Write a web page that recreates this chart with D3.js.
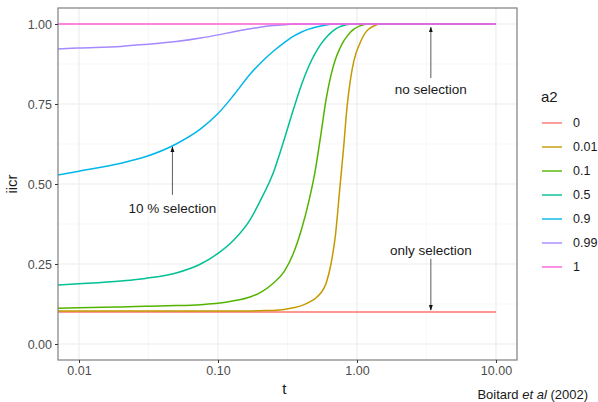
<!DOCTYPE html>
<html>
<head>
<meta charset="utf-8">
<script src="https://cdn.jsdelivr.net/npm/d3@7"></script>
<style>
  body { margin: 0; background: #fff; }
  svg { display: block; font-family: "Liberation Sans", Arial, sans-serif; }
</style>
</head>
<body>
<svg id="chart" width="598" height="402"></svg>
<script>
// iicr curves, one series per a2 level
const a2Levels = ["0", "0.01", "0.1", "0.5", "0.9", "0.99", "1"];
const colors = ["#F8766D", "#C49A00", "#53B400", "#00C094", "#00B6EB", "#A58AFF", "#FB61D7"];

const tGrid = [0.007, 0.01, 0.02, 0.03, 0.05, 0.075, 0.1, 0.13, 0.17, 0.2, 0.25, 0.3, 0.35, 0.4, 0.45,
  0.5, 0.55, 0.6, 0.65, 0.7, 0.75, 0.8, 0.85, 0.9, 0.95, 1.05, 1.2, 1.5, 2, 5, 10];

const iicr_0    = [0.1, 0.1, 0.1, 0.1, 0.1, 0.1, 0.1, 0.1, 0.1, 0.1, 0.1, 0.1, 0.1, 0.1, 0.1,
  0.1, 0.1, 0.1, 0.1, 0.1, 0.1, 0.1, 0.1, 0.1, 0.1, 0.1, 0.1, 0.1, 0.1, 0.1, 0.1];
const iicr_001  = [0.103, 0.103, 0.103, 0.103, 0.103, 0.103, 0.103, 0.103, 0.103, 0.104, 0.105, 0.108, 0.113, 0.12, 0.13,
  0.142, 0.16, 0.19, 0.25, 0.34, 0.48, 0.61, 0.745, 0.83, 0.885, 0.94, 0.982, 1, 1, 1, 1];
const iicr_01   = [0.112, 0.113, 0.116, 0.118, 0.12, 0.123, 0.127, 0.135, 0.147, 0.16, 0.19, 0.227, 0.285, 0.36, 0.445,
  0.54, 0.655, 0.765, 0.84, 0.89, 0.922, 0.946, 0.962, 0.975, 0.984, 0.994, 1, 1, 1, 1, 1];
const iicr_05   = [0.184, 0.188, 0.197, 0.205, 0.222, 0.25, 0.283, 0.325, 0.388, 0.445, 0.535, 0.64, 0.735, 0.812, 0.868,
  0.908, 0.937, 0.958, 0.973, 0.984, 0.991, 0.995, 0.998, 1, 1, 1, 1, 1, 1, 1, 1];
const iicr_09   = [0.528, 0.54, 0.565, 0.585, 0.625, 0.672, 0.72, 0.778, 0.843, 0.876, 0.915, 0.942, 0.962, 0.975, 0.984,
  0.99, 0.994, 0.997, 0.999, 1, 1, 1, 1, 1, 1, 1, 1, 1, 1, 1, 1];
const iicr_099  = [0.922, 0.925, 0.93, 0.936, 0.945, 0.956, 0.966, 0.976, 0.985, 0.99, 0.995, 0.998, 1, 1, 1,
  1, 1, 1, 1, 1, 1, 1, 1, 1, 1, 1, 1, 1, 1, 1, 1];
const iicr_1    = [1, 1, 1, 1, 1, 1, 1, 1, 1, 1, 1, 1, 1, 1, 1,
  1, 1, 1, 1, 1, 1, 1, 1, 1, 1, 1, 1, 1, 1, 1, 1];
const seriesValues = [iicr_0, iicr_001, iicr_01, iicr_05, iicr_09, iicr_099, iicr_1];

const xTicks = [0.01, 0.1, 1, 10];
const xMinor = [0.0316, 0.316, 3.16];
const yTicks = [0, 0.25, 0.5, 0.75, 1];
const yMinor = [0.125, 0.375, 0.625, 0.875];

// annotations: label, t, text y, arrow start y, arrow end y
const noteLabels = ["no selection", "only selection", "10 % selection"];
const noteT      = [3.4, 3.4, 0.047];
const noteTextY  = [0.797, 0.294, 0.425];
const noteFromY  = [0.831, 0.266, 0.466];
const noteToY    = [0.99, 0.106, 0.616];

const margin = { top: 8, right: 81, bottom: 42, left: 58 };
const W = 598, H = 402;
const pw = W - margin.left - margin.right;
const ph = H - margin.top - margin.bottom;

const x = d3.scaleLog().domain([0.00706, 14.17]).range([0, pw]);
const y = d3.scaleLinear().domain([-0.05, 1.05]).range([ph, 0]);

const svg = d3.select("#chart");
svg.append("defs").append("clipPath").attr("id", "clip")
  .append("rect").attr("width", pw).attr("height", ph);
svg.select("defs").append("marker")
  .attr("id", "arrow").attr("viewBox", "0 0 10 10").attr("refX", 9).attr("refY", 5)
  .attr("markerWidth", 7).attr("markerHeight", 7).attr("orient", "auto")
  .append("path").attr("d", "M0,1.5L10,5L0,8.5Z").attr("fill", "#111");

const g = svg.append("g").attr("transform", `translate(${margin.left},${margin.top})`);

// grid
g.selectAll(".vminor").data(xMinor).enter().append("line")
  .attr("x1", d => x(d)).attr("x2", d => x(d)).attr("y1", 0).attr("y2", ph)
  .attr("stroke", "#f2f2f2").attr("stroke-width", 0.6);
g.selectAll(".hminor").data(yMinor).enter().append("line")
  .attr("y1", d => y(d)).attr("y2", d => y(d)).attr("x1", 0).attr("x2", pw)
  .attr("stroke", "#f2f2f2").attr("stroke-width", 0.6);
g.selectAll(".vmajor").data(xTicks).enter().append("line")
  .attr("x1", d => x(d)).attr("x2", d => x(d)).attr("y1", 0).attr("y2", ph)
  .attr("stroke", "#ebebeb").attr("stroke-width", 1.1);
g.selectAll(".hmajor").data(yTicks).enter().append("line")
  .attr("y1", d => y(d)).attr("y2", d => y(d)).attr("x1", 0).attr("x2", pw)
  .attr("stroke", "#ebebeb").attr("stroke-width", 1.1);

// curves
const line = d3.line()
  .x((d, i) => x(tGrid[i]))
  .y(d => y(d))
  .curve(d3.curveMonotoneX);

const lines = g.append("g").attr("clip-path", "url(#clip)");
seriesValues.forEach((vals, k) => {
  lines.append("path")
    .datum(vals)
    .attr("d", line)
    .attr("fill", "none")
    .attr("stroke", colors[k])
    .attr("stroke-width", 1.5);
});

// annotations
noteLabels.forEach((lab, i) => {
  g.append("line")
    .attr("x1", x(noteT[i])).attr("x2", x(noteT[i]))
    .attr("y1", y(noteFromY[i])).attr("y2", y(noteToY[i]))
    .attr("stroke", "#333").attr("stroke-width", 0.8)
    .attr("marker-end", "url(#arrow)");
  g.append("text")
    .attr("x", x(noteT[i])).attr("y", y(noteTextY[i]))
    .attr("text-anchor", "middle").attr("dy", "0.35em")
    .attr("font-size", 13.5).attr("fill", "#1a1a1a")
    .text(lab);
});

// panel border
g.append("rect").attr("width", pw).attr("height", ph)
  .attr("fill", "none").attr("stroke", "#7f7f7f").attr("stroke-width", 1.2);

// axes
const xAxis = g.append("g").attr("transform", `translate(0,${ph})`)
  .call(d3.axisBottom(x).tickValues(xTicks).tickFormat(d3.format(".2f")).tickSize(3).tickPadding(3));
const yAxis = g.append("g")
  .call(d3.axisLeft(y).tickValues(yTicks).tickFormat(d3.format(".2f")).tickSize(3).tickPadding(3));
[xAxis, yAxis].forEach(a => {
  a.select(".domain").remove();
  a.selectAll(".tick line").attr("stroke", "#333");
  a.selectAll(".tick text").attr("fill", "#4d4d4d").attr("font-size", 12.5)
    .attr("font-family", "Liberation Sans, Arial, sans-serif");
});

svg.append("text").attr("x", margin.left + x(0.3)).attr("y", 394)
  .attr("text-anchor", "middle").attr("font-size", 15).attr("fill", "#1a1a1a").text("t");
svg.append("text").attr("transform", `translate(17,${margin.top + ph / 2}) rotate(-90)`)
  .attr("text-anchor", "middle").attr("font-size", 15).attr("fill", "#1a1a1a").text("iicr");

// caption
const cap = svg.append("text").attr("x", 588).attr("y", 399)
  .attr("text-anchor", "end").attr("font-size", 13).attr("fill", "#1a1a1a");
cap.append("tspan").text("Boitard ");
cap.append("tspan").attr("font-style", "italic").text("et al");
cap.append("tspan").text(" (2002)");

// legend
const leg = svg.append("g").attr("transform", "translate(541,0)");
leg.append("text").attr("x", 0).attr("y", 97).attr("dy", "0.35em")
  .attr("font-size", 15).attr("fill", "#1a1a1a").text("a2");
a2Levels.forEach((lab, i) => {
  const yy = 123 + i * 24;
  leg.append("line").attr("x1", 1).attr("x2", 21).attr("y1", yy).attr("y2", yy)
    .attr("stroke", colors[i]).attr("stroke-width", 1.4);
  leg.append("text").attr("x", 32).attr("y", yy).attr("dy", "0.35em")
    .attr("font-size", 12.5).attr("fill", "#1a1a1a").text(lab);
});
</script>
</body>
</html>
